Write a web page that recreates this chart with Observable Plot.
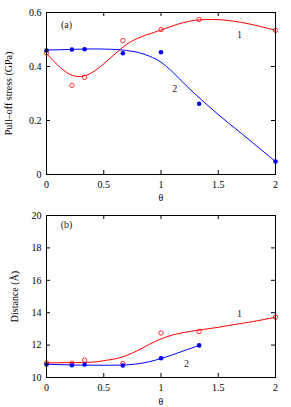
<!DOCTYPE html>
<html><head><meta charset="utf-8">
<script src="https://cdn.jsdelivr.net/npm/d3@7"></script>
<script src="https://cdn.jsdelivr.net/npm/@observablehq/plot@0.6"></script>
<style>body{margin:0;background:#fff} svg{display:block}</style>
</head><body><div id="c"></div>
<script>
// measured points
const thetaPts = [0, 0.222, 0.333, 0.667, 1, 1.333, 2];
const stress1 = [0.451, 0.33, 0.36, 0.496, 0.537, 0.574, 0.534];
const stress2 = [0.459, 0.463, 0.464, 0.449, 0.453, 0.262, 0.048];
const thetaPtsB2 = [0, 0.222, 0.333, 0.667, 1, 1.333];
const dist1 = [10.90, 10.88, 11.07, 10.86, 12.75, 12.84, 13.72];
const dist2 = [10.80, 10.76, 10.80, 10.74, 11.19, 11.98];
// fitted curves
const fitA1x = [0, 0.1, 0.2, 0.3, 0.4, 0.5, 0.6, 0.7, 0.8, 0.9, 1.0, 1.2, 1.4, 1.6, 1.8, 2.0];
const fitA1y = [0.448, 0.404, 0.372, 0.363, 0.378, 0.410, 0.447, 0.482, 0.505, 0.521, 0.535, 0.563, 0.574, 0.570, 0.555, 0.534];
const fitA2x = [0, 0.2, 0.4, 0.6, 0.7, 0.8, 0.9, 1.0, 1.1, 1.2, 1.3, 1.4, 1.5, 1.6, 1.7, 1.8, 1.9, 2.0];
const fitA2y = [0.461, 0.463, 0.465, 0.463, 0.459, 0.452, 0.438, 0.416, 0.380, 0.338, 0.297, 0.259, 0.222, 0.187, 0.153, 0.118, 0.083, 0.048];
const fitB1x = [0, 0.2, 0.4, 0.5, 0.6, 0.7, 0.8, 0.9, 1.0, 1.1, 1.2, 1.333, 1.5, 1.667, 1.8, 2.0];
const fitB1y = [10.90, 10.92, 10.95, 11.04, 11.15, 11.36, 11.68, 12.05, 12.38, 12.62, 12.78, 12.93, 13.10, 13.30, 13.45, 13.72];
const fitB2x = [0, 0.2, 0.4, 0.6, 0.7, 0.8, 0.9, 1.0, 1.1, 1.2, 1.333];
const fitB2y = [10.82, 10.78, 10.76, 10.76, 10.78, 10.85, 10.98, 11.17, 11.40, 11.65, 11.98];
const xTicks = [0, 0.5, 1, 1.5, 2];
const yTicksA = [0, 0.2, 0.4, 0.6];
const yTicksB = [10, 12, 14, 16, 18, 20];
const labelsA = [{x: 0.175, y: 0.556, t: "(a)"}, {x: 1.686, y: 0.517, t: "1"}, {x: 1.12, y: 0.317, t: "2"}];
const labelsB = [{x: 0.175, y: 19.4, t: "(b)"}, {x: 1.686, y: 13.95, t: "1"}, {x: 1.222, y: 10.82, t: "2"}];

const zip = (xs, ys) => xs.map((x, i) => ({x, y: ys[i]}));
const RED = "#ff0000", BLUE = "#0000ff";
const W = 291, ML = 46, MR = 16, TL = 4;
const font = "'Liberation Serif', 'Times New Roman', serif";

function panel({height, mt, mb, yDomain, yTicks, yLabel, yLabelOffset, xLabelOffset, yFmt, r1, r2, c1, c2, labels}) {
  const ph = height - mt - mb, pw = W - ML - MR;
  return Plot.plot({
    width: W, height, marginLeft: ML, marginRight: MR, marginTop: mt, marginBottom: mb,
    style: {fontFamily: font, fontSize: "10px", background: "white", color: "black"},
    x: {domain: [0, 2]},
    y: {domain: yDomain},
    marks: [
      Plot.axisX(xTicks, {anchor: "bottom", tickSize: 0, tickPadding: 6, tickFormat: d => String(d),
        label: "θ", labelAnchor: "center", labelArrow: "none", labelOffset: xLabelOffset, fontSize: 10}),
      Plot.axisY(yTicks, {anchor: "left", tickSize: 0, tickPadding: 5, tickFormat: yFmt,
        label: yLabel, labelAnchor: "center", labelArrow: "none", labelOffset: yLabelOffset, fontSize: 10}),
      Plot.tickX(xTicks, {x: d => d, stroke: "black", insetTop: ph - TL}),
      Plot.tickX(xTicks, {x: d => d, stroke: "black", insetBottom: ph - TL}),
      Plot.tickY(yTicks, {y: d => d, stroke: "black", insetRight: pw - TL}),
      Plot.tickY(yTicks, {y: d => d, stroke: "black", insetLeft: pw - TL}),
      Plot.line(c1, {x: "x", y: "y", stroke: RED, strokeWidth: 1, curve: "natural"}),
      Plot.line(c2, {x: "x", y: "y", stroke: BLUE, strokeWidth: 1, curve: "natural"}),
      Plot.dot(r1, {x: "x", y: "y", r: 2.2, stroke: RED, strokeWidth: 0.8, fill: "none"}),
      Plot.dot(r2, {x: "x", y: "y", r: 2.3, fill: BLUE, stroke: "none"}),
      Plot.text(labels, {x: "x", y: "y", text: "t", fontSize: 10, fill: "#222"}),
      Plot.frame({stroke: "black"})
    ]
  });
}

const c = document.getElementById("c");
c.append(panel({
  height: 204, mt: 12, mb: 30, yDomain: [0, 0.6], yTicks: yTicksA,
  yLabel: "Pull–off stress (GPa)", yLabelOffset: 42, xLabelOffset: 26, yFmt: d => d === 0 ? "0" : d.toFixed(1),
  r1: zip(thetaPts, stress1), r2: zip(thetaPts, stress2),
  c1: zip(fitA1x, fitA1y), c2: zip(fitA2x, fitA2y), labels: labelsA
}));
c.append(panel({
  height: 203, mt: 11, mb: 30, yDomain: [10, 20], yTicks: yTicksB,
  yLabel: "Distance (Å)", yLabelOffset: 36, xLabelOffset: 27, yFmt: d => String(d),
  r1: zip(thetaPts, dist1), r2: zip(thetaPtsB2, dist2),
  c1: zip(fitB1x, fitB1y), c2: zip(fitB2x, fitB2y), labels: labelsB
}));
</script></body></html>
